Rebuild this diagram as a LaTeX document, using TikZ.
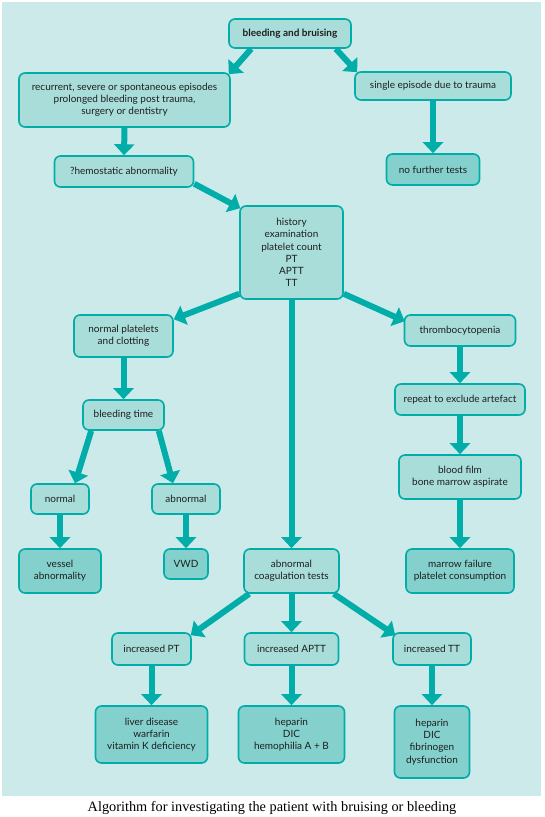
\documentclass[tikz,border=0pt]{standalone}
\usepackage{fontspec}
\setmainfont{Lato}
\newfontfamily\captionfont{Liberation Serif}
\usepackage{tikz}
\usetikzlibrary{arrows.meta}
\definecolor{panelBg}{RGB}{204,234,233}
\definecolor{boxFill}{RGB}{168,221,218}
\definecolor{endFill}{RGB}{132,208,204}
\definecolor{tealLine}{RGB}{0,173,168}
\definecolor{textGrey}{RGB}{30,30,30}

\begin{document}
\begin{tikzpicture}[
    x=1pt, y=-1pt,
    % Styles
    base/.style={
        draw=tealLine,
        line width=1.6pt,
        rounded corners=6pt,
        fill=boxFill,
        align=center,
        text=textGrey,
        font=\fontsize{10}{12.2}\selectfont,
        inner sep=0pt
    },
    result/.style={
        base,
        fill=endFill
    },
    arrow/.style={-{Triangle[width=20pt,length=11pt]}, line width=6pt, color=tealLine}
]

    % ---------------------------------------------------------
    % PANEL AND CAPTION
    % ---------------------------------------------------------
    \useasboundingbox (0,0) rectangle (544,817);
    \fill[white] (0,0) rectangle (544,817);
    \fill[panelBg] (2,2) rectangle (541,796);
    \node[font=\captionfont\fontsize{14.3}{16}\selectfont] (caption) at (272,808)
        {Algorithm for investigating the patient with bruising or bleeding};

    % ---------------------------------------------------------
    % TOP: PRESENTATION
    % ---------------------------------------------------------
    \node[base, minimum width=122pt, minimum height=29pt, font=\fontsize{10}{12.2}\selectfont\bfseries] (start) at (290,33.5) {bleeding and bruising};
    \node[base, minimum width=211pt, minimum height=54pt] (recurrent) at (124.5,100)
        {recurrent, severe or spontaneous episodes\\prolonged bleeding post trauma,\\surgery or dentistry};
    \node[base, minimum width=156pt, minimum height=28pt] (single) at (433,86) {single episode due to trauma};
    \node[result, minimum width=93pt, minimum height=31pt] (nofurther) at (433,169.5) {no further tests};
    \node[base, minimum width=139pt, minimum height=31pt] (hemostatic) at (124,171.5) {?hemostatic abnormality};

    % ---------------------------------------------------------
    % MIDDLE: FIRST TESTS
    % ---------------------------------------------------------
    \node[base, minimum width=103pt, minimum height=93pt] (history) at (291.5,252.5)
        {history\\examination\\platelet count\\PT\\APTT\\TT};

    % normal platelets branch
    \node[base, minimum width=99pt, minimum height=42pt] (normplat) at (123.5,336) {normal platelets\\and clotting};
    \node[base, minimum width=81pt, minimum height=30pt] (bleedtime) at (123.5,415) {bleeding time};
    \node[base, minimum width=58pt, minimum height=30pt] (normal) at (60,499) {normal};
    \node[base, minimum width=68pt, minimum height=30pt] (abnormal) at (186,499) {abnormal};
    \node[result, minimum width=82pt, minimum height=44pt] (vessel) at (60,571) {vessel\\abnormality};
    \node[result, minimum width=44pt, minimum height=30pt] (vwd) at (186,564) {VWD};

    % thrombocytopenia branch
    \node[base, minimum width=111pt, minimum height=31pt] (thrombo) at (460,330.5) {thrombocytopenia};
    \node[base, minimum width=130pt, minimum height=31pt] (repeat) at (460,399.5) {repeat to exclude artefact};
    \node[base, minimum width=122pt, minimum height=44pt] (bloodfilm) at (460,477) {blood film\\bone marrow aspirate};
    \node[result, minimum width=108pt, minimum height=44pt] (marrow) at (460,571) {marrow failure\\platelet consumption};

    % ---------------------------------------------------------
    % BOTTOM: COAGULATION TESTS
    % ---------------------------------------------------------
    \node[base, minimum width=95pt, minimum height=44pt] (coag) at (291.5,571) {abnormal\\coagulation tests};
    \node[base, minimum width=79pt, minimum height=32pt] (incpt) at (151.5,649) {increased PT};
    \node[base, minimum width=94pt, minimum height=32pt] (incaptt) at (291.5,649) {increased APTT};
    \node[base, minimum width=78pt, minimum height=32pt] (inctt) at (432,649) {increased TT};
    \node[result, minimum width=112pt, minimum height=57pt] (liver) at (151.5,734.5) {liver disease\\warfarin\\vitamin K deficiency};
    \node[result, minimum width=106pt, minimum height=57pt] (heparinA) at (291.5,734.5) {heparin\\DIC\\hemophilia A + B};
    \node[result, minimum width=75pt, minimum height=72pt] (heparinB) at (432,742) {heparin\\DIC\\fibrinogen\\dysfunction};

    % ---------------------------------------------------------
    % CONNECTIONS
    % ---------------------------------------------------------
    \draw[arrow] ([xshift=23pt]start.south west) -- ([xshift=-2pt,yshift=-2pt]recurrent.north east);
    \draw[arrow] ([xshift=-16pt]start.south east) -- ([xshift=3pt,yshift=-1pt]single.north west);
    \draw[arrow] (recurrent.south) -- (hemostatic.north);
    \draw[arrow] (single.south) -- (nofurther.north);
    \draw[arrow] ([yshift=4pt]hemostatic.south east) -- ([xshift=1pt,yshift=-3pt]history.north west);

    \draw[arrow] ([yshift=6pt]history.south west) -- ([yshift=-5pt]normplat.north east);
    \draw[arrow] (history.south) -- (coag.north);
    \draw[arrow] ([yshift=6pt]history.south east) -- ([xshift=1pt,yshift=-7pt]thrombo.north west);

    \draw[arrow] (normplat.south) -- (bleedtime.north);
    \draw[arrow] ([xshift=9pt]bleedtime.south west) -- ([xshift=15pt]normal.north);
    \draw[arrow] ([xshift=-6pt]bleedtime.south east) -- ([xshift=-13pt]abnormal.north);
    \draw[arrow] (normal.south) -- (vessel.north);
    \draw[arrow] (abnormal.south) -- (vwd.north);

    \draw[arrow] (thrombo.south) -- (repeat.north);
    \draw[arrow] (repeat.south) -- (bloodfilm.north);
    \draw[arrow] (bloodfilm.south) -- (marrow.north);

    \draw[arrow] ([xshift=6pt]coag.south west) -- ([xshift=-1pt,yshift=-3pt]incpt.north east);
    \draw[arrow] (coag.south) -- (incaptt.north);
    \draw[arrow] ([xshift=-6pt]coag.south east) -- ([xshift=3pt,yshift=-3pt]inctt.north west);
    \draw[arrow] (incpt.south) -- (liver.north);
    \draw[arrow] (incaptt.south) -- (heparinA.north);
    \draw[arrow] (inctt.south) -- (heparinB.north);

\end{tikzpicture}
\end{document}
